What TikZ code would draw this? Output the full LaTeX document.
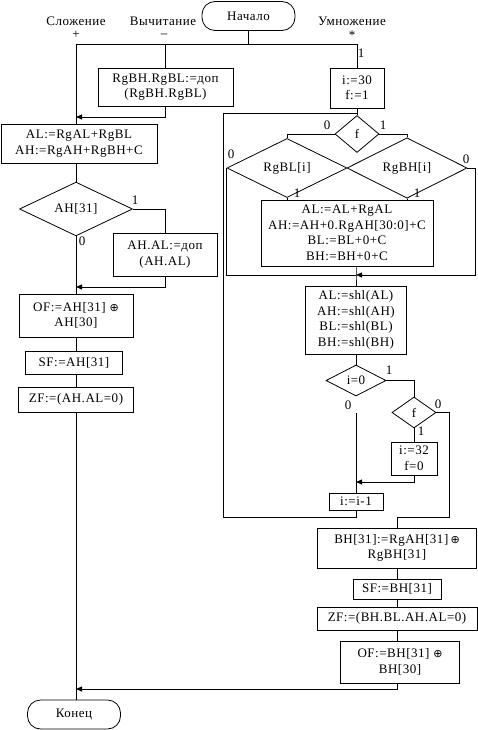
\documentclass[tikz,border=0pt]{standalone}
\usepackage{fontspec}
\setmainfont[LetterSpace=4]{Liberation Serif}
\newfontfamily\oplusfont{DejaVu Sans}
\usepackage{tikz}
\usetikzlibrary{arrows.meta}
\usetikzlibrary{shapes.geometric}
\usetikzlibrary{positioning}
\usetikzlibrary{calc}
\tikzset{
  % common look of the flowchart
  >={Triangle[length=6pt,width=5pt]},
  line/.style={draw, line width=0.8pt},
  arrow/.style={draw, line width=0.8pt, ->}
}
\newcommand{\xor}{{\oplusfont\fontsize{11}{12}\selectfont ⊕}}

\begin{document}
\begin{tikzpicture}[
    x=1pt, y=-1pt,
    every node/.style={font=\fontsize{13}{15.5}\selectfont},
    box/.style={rectangle, draw, line width=0.8pt, align=center, inner sep=1pt,
               minimum width=#1},
    term/.style={rectangle, draw, line width=0.8pt, rounded corners=13pt,
               minimum width=93pt, minimum height=29pt, inner sep=1pt},
    decision/.style={diamond, draw, line width=0.8pt, inner sep=0pt},
    lbl/.style={inner sep=0pt}
]
\useasboundingbox (0,0) rectangle (478,730);

% Start and operation names
\node[term] (start) at (248.5,16) {Начало};
\node[lbl] (addop) at (76,21) {Сложение};
\node[lbl] (subop) at (163,21) {Вычитание};
\node[lbl] (mulop) at (352,21) {Умножение};
\node[lbl] (plus) at (76,35) {+};
\node[lbl] (minus) at (164,36) {--};
\node[lbl] (star) at (352,35) {*};
\node[lbl] (mulone) at (361,53) {1};

% Addition / subtraction branch
\node[box=135pt, minimum height=38pt] (sub) at (165.5,87) {RgBH.RgBL:=доп\\(RgBH.RgBL)};
\node[box=156pt, minimum height=39pt] (sum) at (79,143.5) {AL:=RgAL+RgBL\\AH:=RgAH+RgBH+C};
\node[decision, minimum width=113pt, minimum height=48pt] (ahsign) at (76,209) {AH[31]};
\node[box=104pt, minimum height=43pt] (neg) at (165,254.5) {AH.AL:=доп\\(AH.AL)};
\node[box=114pt, minimum height=43pt] (of) at (76,315.5) {OF:=AH[31] \xor\\AH[30]};
\node[box=97pt, minimum height=23pt] (sf) at (74,362.5) {SF:=AH[31]};
\node[box=115pt, minimum height=25pt] (zf) at (76,399.5) {ZF:=(AH.AL=0)};
\node[term] (finish) at (74,714.5) {Конец};

% Multiplication branch
\node[box=54pt, minimum height=40pt] (init) at (357,88) {i:=30\\f:=1};
\node[decision, minimum width=44pt, minimum height=37pt] (fsel) at (357,134) {f};
\node[decision, minimum width=120pt, minimum height=40pt] (bitL) at (287,168) {RgBL[i]};
\node[decision, minimum width=120pt, minimum height=40pt] (bitH) at (407,168) {RgBH[i]};
\node[box=172pt, minimum height=66pt] (acc) at (347,233) {AL:=AL+RgAL\\AH:=AH+0.RgAH[30:0]+C\\BL:=BL+0+C\\BH:=BH+0+C};
\node[box=101pt, minimum height=68pt] (shift) at (356,320) {AL:=shl(AL)\\AH:=shl(AH)\\BL:=shl(BL)\\BH:=shl(BH)};
\node[decision, minimum width=60pt, minimum height=31pt] (izero) at (356,380.5) {i=0};
\node[decision, minimum width=44pt, minimum height=31pt] (fchk) at (414,412.5) {f};
\node[box=46pt, minimum height=33pt] (reset) at (414,458.5) {i:=32\\f=0};
\node[box=54pt, minimum height=17pt] (dec) at (356,501.5) {i:=i-1};
\node[box=159pt, minimum height=40pt] (bh) at (397,548) {BH[31]:=RgAH[31]\,\xor\\RgBH[31]};
\node[box=88pt, minimum height=20pt] (sfm) at (397,589) {SF:=BH[31]};
\node[box=160pt, minimum height=23pt] (zfm) at (397,618.5) {ZF:=(BH.BL.AH.AL=0)};
\node[box=119pt, minimum height=42pt] (ofm) at (400,662) {OF:=BH[31] \xor\\BH[30]};

% Branch labels
\node[lbl] at (135,200) {1};
\node[lbl] at (82,241) {0};
\node[lbl] at (327,125) {0};
\node[lbl] at (383,125) {1};
\node[lbl] at (231,154) {0};
\node[lbl] at (466,159) {0};
\node[lbl] at (297,193) {1};
\node[lbl] at (417,193) {1};
\node[lbl] at (389,370) {1};
\node[lbl] at (348,405) {0};
\node[lbl] at (438,404) {0};
\node[lbl] at (421,431) {1};

% Junction points
\coordinate (top) at (248.5,44);
\coordinate (topL) at (76,44);
\coordinate (topM) at (165.5,44);
\coordinate (topR) at (357,44);
\coordinate (joinsub) at (76,117);
\coordinate (joinneg) at (76,287);
\coordinate (joinend) at (76,689);
\coordinate (loopin) at (357,113);
\coordinate (loopout) at (223,517);
\coordinate (bitHout) at (475,168);
\coordinate (joinacc) at (356,275);
\coordinate (joinrst) at (356,482);
\coordinate (gapend) at (356,413);
\coordinate (fout) at (449,517);
\coordinate (bhin) at (397,517);

% Connectors, left part
\draw[line] (start) -- (top);
\draw[line] (topL) -- (topR);
\draw[line] (topM) -- (sub);
\draw[line] (topL) -- (topL |- sum.north);
\draw[arrow] (sub) |- (joinsub);
\draw[line] (sum.south -| ahsign) -- (ahsign);
\draw[line] (ahsign.east) -| (neg.north);
\draw[line] (ahsign) -- (of);
\draw[arrow] (neg) |- (joinneg);
\draw[line] (of.south) -- (of.south |- sf.north);
\draw[line] (of.south |- sf.south) -- (zf);
\draw[line] (zf.south) -- (zf.south |- finish.north);
\draw[arrow] (ofm.south -| bh) |- (joinend);

% Connectors, right part
\draw[line] (topR) -- (init);
\draw[line] (init) -- (fsel);
\draw[line] (fsel.west) -| (bitL.north);
\draw[line] (fsel.east) -| (bitH.north);
\draw[line] (bitL.south) -- (bitL.south |- acc.north);
\draw[line] (bitH.south) -- (bitH.south |- acc.north);
\draw[line] (bitL.west) |- (joinacc);
\draw[arrow] (bitH.east) -- (bitHout) |- (joinacc);
\draw[line] (acc.south -| joinacc) -- (joinacc) -- (shift);
\draw[line] (shift) -- (izero);
\draw[line] (izero.east) -| (fchk.north);
\draw[line] (gapend) -- (dec);
\draw[line] (fchk) -- (reset);
\draw[arrow] (reset) |- (joinrst);
\draw[line] (fchk.east) -| (fout) -- (bhin) -- (bh);
\draw[line] (dec) |- (loopout) |- (loopin);
\draw[line] (bh) -- (sfm);
\draw[line] (sfm) -- (zfm);
\draw[line] (zfm) -- (zfm |- ofm.north);

\end{tikzpicture}
\end{document}
